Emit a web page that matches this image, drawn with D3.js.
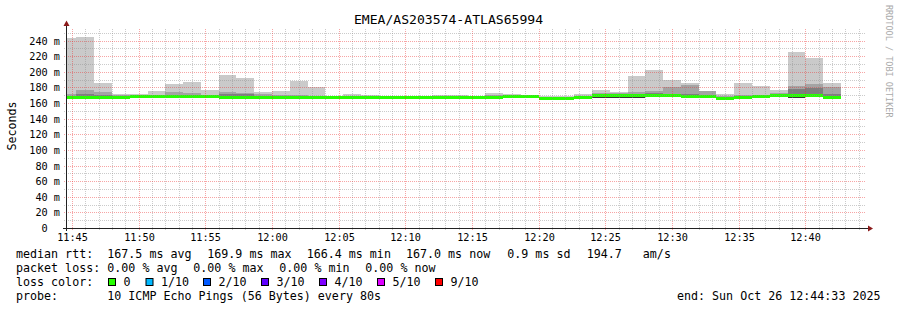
<!DOCTYPE html>
<html>
<head>
<meta charset="utf-8">
<script src="https://cdnjs.cloudflare.com/ajax/libs/d3/7.8.5/d3.min.js"></script>
<style>
body{margin:0;background:#fff;}
svg text{font-family:"DejaVu Sans Mono",monospace;white-space:pre;fill:#000;}
</style>
</head>
<body>
<div id="chart"></div>
<script>
// start of each 80s step (local time, 2025-10-26)
var stepTimes = ["11:44:00","11:45:20","11:46:40","11:48:00","11:49:20","11:50:40","11:52:00","11:53:20",
    "11:54:40","11:56:00","11:57:20","11:58:40","12:00:00","12:01:20","12:02:40","12:04:00","12:05:20",
    "12:06:40","12:08:00","12:09:20","12:10:40","12:12:00","12:13:20","12:14:40","12:16:00","12:17:20",
    "12:18:40","12:20:00","12:21:20","12:22:40","12:24:00","12:25:20","12:26:40","12:28:00","12:29:20",
    "12:30:40","12:32:00","12:33:20","12:34:40","12:36:00","12:37:20","12:38:40","12:40:00","12:41:20"];
// smoke: sorted ping layers in ms (top of each layer), bottom = rttMin
var rttMax = [243,245,186,171,171,176,184.3,187,176.5,196,191.5,174.5,175.8,188.2,180.9,169.5,171.5,170.3,
    169,169,169,170,170,169.5,172.8,171.5,170,168.5,168.5,171.5,176.6,174,195,202.2,189.8,186,175.4,
    171.3,185.6,181.6,177.2,225.5,218,186];
var rttP9 = [171,176.5,174.5,170,169.5,170,174.5,173,170,174,172.5,172,170,170.5,169,168.5,169,169,
    168.5,168.5,168.5,169,169,168.5,170,169.5,169,168,168,169.5,173,172.5,174,175.4,180,183.5,175.4,
    169.5,170,170,173,182,184.3,180.8];
var rttP8 = [169,171,170,168.5,168.5,169,170,170,169,171,172,169,168.5,168.5,168,168,168,168,
    168,168,168,168,168,168,168.5,168.5,168.5,167,167,168.5,171.5,171,172,172.5,172,172,170,
    168,168,168.5,172,178.3,178.8,172];
var rttCore = [167,167,167,167,168,168,168,168.3,168,167,167,167,167,167.4,167,167.4,167.4,167.4,
    167.4,167.4,167.4,167.4,167.4,167.4,167.4,167.8,167.8,166.4,166.4,167.2,169.5,169.5,169.8,169.9,169,
    168.5,168.5,166.4,166.5,167.8,169,169.9,169,169.6];
var rttMedian = [166.6,166.6,166.6,166.6,168,168,168,168.3,168,166.6,166.6,166.8,166.8,167.4,166.8,167.4,
    167.4,167.4,167.4,167.4,167.4,167.4,167.4,167.4,167.4,167.8,167.8,166.4,166.4,167.2,169.5,169.5,169.8,
    169.9,169,168.5,168.5,166.4,166.5,167.8,169,169.9,169,167];
var rttMin = [165.4,165.4,165.4,165.4,166.6,166.6,166.6,166.8,166.6,165.4,165.4,165.6,165.6,166,165.6,166,
    166,166,166,166,166,166,166,166,166,166.4,166.4,165.2,165.2,166,166.8,166.8,167,168.2,167.5,167,167,
    165.2,165.3,166.4,167.4,167,167.5,165.8];

var yTicks = [0,20,40,60,80,100,120,140,160,180,200,220,240];
var yTickLabels = ["0","20 m","40 m","60 m","80 m","100 m","120 m","140 m","160 m","180 m","200 m","220 m","240 m"];
var xTickLabels = ["11:45","11:50","11:55","12:00","12:05","12:10","12:15","12:20","12:25","12:30","12:35","12:40"];

var title = "EMEA/AS203574-ATLAS65994";
var legendRtt = ["median rtt:","167.5 ms avg","169.9 ms max","166.4 ms min","167.0 ms now","0.9 ms sd","194.7   am/s"];
var legendLoss = ["packet loss:","0.00 % avg","0.00 % max","0.00 % min","0.00 % now"];
var lossLabels = ["0","1/10","2/10","3/10","4/10","5/10","9/10"];
var lossColors = ["#26ff00","#00b8ff","#0059ff","#5e00ff","#7e00ff","#dd00ff","#ff0000"];
var probeText = "10 ICMP Echo Pings (56 Bytes) every 80s";
var endText = "end: Sun Oct 26 12:44:33 2025";

var W = 897, H = 310;
var parseTime = d3.timeParse("%Y-%m-%d %H:%M:%S");
function t(s) { return parseTime("2025-10-26 " + (s.length === 5 ? s + ":00" : s)); }

var x = d3.scaleTime().domain([t("11:44:33"), t("12:44:33")]).range([66, 866]);
var y = d3.scaleLinear().domain([0, 256]).range([228, 28]);

var steps = stepTimes.map(function (s, i) {
    var t0 = t(s);
    return {t0: t0, t1: d3.timeSecond.offset(t0, 80), max: rttMax[i], p9: rttP9[i], p8: rttP8[i],
        core: rttCore[i], med: rttMedian[i], min: rttMin[i]};
});

var svg = d3.select("#chart").append("svg").attr("width", W).attr("height", H);
svg.append("rect").attr("width", W).attr("height", H).attr("fill", "#fff");

svg.append("clipPath").attr("id", "plot")
    .append("rect").attr("x", 67).attr("y", 28).attr("width", 800).attr("height", 200);

var plot = svg.append("g").attr("clip-path", "url(#plot)");

// smoke layers, outer (light) to inner (dark)
var layers = [["max", "#cacaca"], ["p9", "#a4a4a4"], ["p8", "#7e7e7e"], ["core", "#363636"]];
layers.forEach(function (l) {
    plot.append("g").selectAll("rect").data(steps).enter().append("rect")
        .attr("x", function (d) { return Math.round(x(d.t0)); })
        .attr("width", function (d) { return Math.round(x(d.t1)) - Math.round(x(d.t0)); })
        .attr("y", function (d) { return y(d[l[0]]); })
        .attr("height", function (d) { return Math.max(0, y(d.min) - y(d[l[0]])); })
        .attr("fill", l[1])
        .attr("shape-rendering", "crispEdges");
});

// median, coloured by loss (all 0 here), 3px band
plot.append("g").selectAll("rect").data(steps).enter().append("rect")
    .attr("x", function (d) { return Math.round(x(d.t0)); })
    .attr("width", function (d) { return Math.round(x(d.t1)) - Math.round(x(d.t0)); })
    .attr("y", function (d) { return y(d.med) - 1.5; })
    .attr("height", 3)
    .attr("fill", lossColors[0])
    .attr("shape-rendering", "crispEdges");

// grid
var grid = svg.append("g");
var minorY = y.ticks(25).filter(function (v) { return v % 20 !== 0; });
grid.selectAll(".hmin").data(minorY).enter().append("line")
    .attr("x1", 64).attr("x2", 866)
    .attr("y1", function (d) { return Math.round(y(d)) + 0.5; })
    .attr("y2", function (d) { return Math.round(y(d)) + 0.5; })
    .attr("stroke", "rgba(140,140,140,0.45)").attr("stroke-dasharray", "1,1");
var majorX = xTickLabels.map(function (s) { return t(s); });
var minorX = x.ticks(d3.timeMinute.every(1)).filter(function (d) { return d.getMinutes() % 5 !== 0; });
grid.selectAll(".vmin").data(minorX).enter().append("line")
    .attr("y1", 230).attr("y2", 28)
    .attr("x1", function (d) { return Math.round(x(d)) + 0.5; })
    .attr("x2", function (d) { return Math.round(x(d)) + 0.5; })
    .attr("stroke", "rgba(140,140,140,0.45)").attr("stroke-dasharray", "1,1");
grid.selectAll(".hmaj").data(yTicks.slice(1)).enter().append("line")
    .attr("x1", 64).attr("x2", 866)
    .attr("y1", function (d) { return Math.round(y(d)) + 0.5; })
    .attr("y2", function (d) { return Math.round(y(d)) + 0.5; })
    .attr("stroke", "rgba(235,40,40,0.42)").attr("stroke-dasharray", "1,1");
grid.selectAll(".vmaj").data(majorX).enter().append("line")
    .attr("y1", 230).attr("y2", 28)
    .attr("x1", function (d) { return Math.round(x(d)) + 0.5; })
    .attr("x2", function (d) { return Math.round(x(d)) + 0.5; })
    .attr("stroke", "rgba(235,40,40,0.42)").attr("stroke-dasharray", "1,1");

// axes + arrows
svg.append("line").attr("x1", 63).attr("x2", 869).attr("y1", 228.5).attr("y2", 228.5).attr("stroke", "#222");
svg.append("line").attr("x1", 66.5).attr("x2", 66.5).attr("y1", 231).attr("y2", 24).attr("stroke", "#222");
svg.append("path").attr("d", "M868,225.5L873,228.5L868,231.5Z").attr("fill", "#8b1a1a");
svg.append("path").attr("d", "M63.5,26L66.5,20.5L69.5,26Z").attr("fill", "#8b1a1a");

// tick labels
svg.append("g").selectAll("text").data(yTicks).enter().append("text")
    .attr("x", function (d, i) { return yTickLabels[i].indexOf("m") < 0 ? 47.7 : 60; })
    .attr("y", function (d) { return Math.round(y(d)) + 4; })
    .attr("text-anchor", "end").style("font-size", "10.2px")
    .text(function (d, i) { return yTickLabels[i]; });
svg.append("g").selectAll("text").data(majorX).enter().append("text")
    .attr("x", function (d) { return Math.round(x(d)) + 0.5; })
    .attr("y", 241)
    .attr("text-anchor", "middle").style("font-size", "10.2px")
    .text(function (d, i) { return xTickLabels[i]; });

svg.append("text").attr("x", 448.5).attr("y", 24).attr("text-anchor", "middle")
    .style("font-size", "13.1px").text(title);
svg.append("text").attr("transform", "translate(15.5,126) rotate(-90)").attr("text-anchor", "middle")
    .style("font-size", "11.67px").text("Seconds");
svg.append("text").attr("transform", "translate(885.5,5) rotate(90)")
    .style("font-size", "8.5px").style("fill", "#aaa").text("RRDTOOL / TOBI OETIKER");

// legend
var leg = svg.append("g").style("font-size", "11.67px");
var rttX = [16, 107.3, 207.3, 306.7, 406, 507.3, 586.7];
legendRtt.forEach(function (s, i) { leg.append("text").attr("x", rttX[i]).attr("y", 258).text(s); });
var lossX = [16, 107.3, 193.3, 279.3, 365.3];
legendLoss.forEach(function (s, i) { leg.append("text").attr("x", lossX[i]).attr("y", 272).text(s); });
leg.append("text").attr("x", 16).attr("y", 286).text("loss color:");
var boxX = [108.5, 146, 203.5, 261.5, 319.5, 377.5, 435.5];
lossLabels.forEach(function (s, i) {
    leg.append("rect").attr("x", boxX[i]).attr("y", 278.5).attr("width", 7).attr("height", 7)
        .attr("fill", lossColors[i]).attr("stroke", "#000");
    leg.append("text").attr("x", boxX[i] + 15).attr("y", 286).text(s);
});
leg.append("text").attr("x", 16).attr("y", 300).text("probe:");
leg.append("text").attr("x", 107.3).attr("y", 300).text(probeText);
leg.append("text").attr("x", 880.5).attr("y", 300).attr("text-anchor", "end").text(endText);
</script>
</body>
</html>
